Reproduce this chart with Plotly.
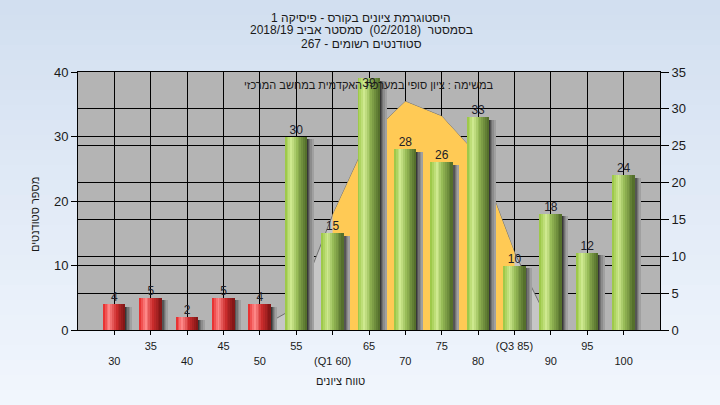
import plotly.graph_objects as go

# ---------------- data ----------------
categories = [30, 35, 40, 45, 50, 55, 60, 65, 70, 75, 80, 85, 90, 95, 100]
tick_labels = ["30", "35", "40", "45", "50", "55", "(Q1 60)", "65", "70", "75",
               "80", "(Q3 85)", "90", "95", "100"]
counts = [4, 5, 2, 5, 4, 30, 15, 39, 28, 26, 33, 10, 18, 12, 24]
curve_cats = [50, 55, 60, 65, 70, 75, 80, 85, 90]
curve_vals = [0.3, 3.1, 15.6, 26.3, 31.0, 29.0, 23.6, 10.5, 0.5]
q1, q3 = 60, 85
pass_mark = 55

title_lines = ["היסטוגרמת ציונים בקורס - פיסיקה 1",
               "בסמסטר  (02/2018)  סמסטר אביב 2018/19",
               "סטודנטים רשומים - 267"]
note_text = "במשימה : ציון סופי במערכת האקדמית במחשב המרכזי"
x_title = "טווח ציונים"
y_title = "מספר סטודנטים"

# ---------------- helpers ----------------
FONT = "Liberation Sans, Arial, sans-serif"
W, H = 720, 405
ML, MR, MT, MB = 78, 60, 72, 75
PW, PH = W - ML - MR, H - MT - MB


def px_x(px):
    return (px - ML) / PW


def px_y(py):
    return (H - MB - py) / PH


def lerp(c1, c2, t):
    return tuple(round(a + (b - a) * t) for a, b in zip(c1, c2))


def grad(stops, t):
    for (t0, c0), (t1, c1) in zip(stops, stops[1:]):
        if t <= t1:
            return lerp(c0, c1, (t - t0) / (t1 - t0))
    return stops[-1][1]


def rgb(c):
    return "rgb(%d,%d,%d)" % c


green_stops = [(0, (150, 196, 62)), (0.3, (208, 234, 145)), (0.55, (150, 186, 86)), (1, (78, 104, 40))]
red_stops = [(0, (228, 36, 36)), (0.28, (255, 138, 138)), (0.6, (206, 46, 46)), (1, (124, 20, 20))]

xs = list(range(len(categories)))
cat_idx = {c: i for i, c in enumerate(categories)}

fig = go.Figure()

# ---- area curve (main subplot, right axis) ----
cx = [cat_idx[c] for c in curve_cats]
fig.add_trace(go.Scatter(x=cx, y=curve_vals, mode="lines", fill="tozeroy",
                         fillcolor="#c6c6c6", line=dict(color="#707070", width=1),
                         yaxis="y", hoverinfo="skip", showlegend=False))
inner = [(cat_idx[c], v) for c, v in zip(curve_cats, curve_vals) if q1 <= c <= q3]
fig.add_trace(go.Scatter(x=[p[0] for p in inner], y=[p[1] for p in inner], mode="lines",
                         fill="tozeroy", fillcolor="#ffca55", line=dict(width=0, color="#ffca55"),
                         yaxis="y", hoverinfo="skip", showlegend=False))

# ---- bars (overlay subplot, left axis) ----
BW = 0.6
shadow_cols = [(55, 55, 55), (85, 85, 85), (115, 115, 115), (140, 140, 140), (160, 160, 160)]
SW = 0.035
for j, sc in enumerate(shadow_cols):
    fig.add_trace(go.Bar(x=xs, y=[max(v - 0.4, 0) for v in counts], width=SW,
                         offset=BW / 2 + j * SW, marker=dict(color=rgb(sc), line=dict(width=0)),
                         yaxis="y2", hoverinfo="skip", showlegend=False))

N = 12
for k in range(N):
    t = (k + 0.5) / N
    cols = [rgb(grad(red_stops if c < pass_mark else green_stops, t)) for c in categories]
    fig.add_trace(go.Bar(x=xs, y=counts, width=BW / N + 0.004, offset=-BW / 2 + k * BW / N,
                         marker=dict(color=cols, line=dict(width=0)),
                         yaxis="y2", hoverinfo="skip", showlegend=False))

ymax_left = 40
fig.add_trace(go.Scatter(x=xs, y=counts, mode="text", text=[str(v) for v in counts],
                         textposition=["bottom center" if v > ymax_left - 4 else "top center" for v in counts],
                         textfont=dict(family=FONT, size=12, color="#202028"),
                         yaxis="y2", cliponaxis=False, hoverinfo="skip", showlegend=False))

# ---------------- layout ----------------
ticktext = [lab if i % 2 == 1 else "<br>" + lab for i, lab in enumerate(tick_labels)]

shapes = []
NS = 27
for i in range(NS):
    t = i / (NS - 1)
    col = lerp((210, 223, 240), (241, 246, 253), t)
    top = i * H / NS
    bot = (i + 1) * H / NS + 1
    shapes.append(dict(type="rect", xref="paper", yref="paper", layer="below",
                       x0=px_x(-1), x1=px_x(W + 1), y0=px_y(bot), y1=px_y(top),
                       fillcolor=rgb(col), line=dict(width=0)))
shapes.append(dict(type="rect", xref="paper", yref="paper", layer="below",
                   x0=0, x1=1, y0=0, y1=1, fillcolor="#b4b4b4", line=dict(width=0)))

annotations = []
for ln, py in zip(title_lines, [17.5, 30.5, 43.5]):
    annotations.append(dict(text=ln, xref="paper", yref="paper", x=px_x(361), y=px_y(py),
                            showarrow=False, xanchor="center", yanchor="middle",
                            font=dict(family=FONT, size=12, color="#1a1a1a")))
annotations.append(dict(text=note_text, xref="paper", yref="paper", x=0.5, y=px_y(85),
                        showarrow=False, xanchor="center", yanchor="middle",
                        font=dict(family=FONT, size=11, color="#1a1a1a")))
annotations.append(dict(text=x_title, xref="paper", yref="paper", x=px_x(340), y=px_y(381),
                        showarrow=False, xanchor="center", yanchor="middle",
                        font=dict(family=FONT, size=11, color="#1a1a1a")))
annotations.append(dict(text=y_title, xref="paper", yref="paper", x=px_x(35), y=px_y(215),
                        showarrow=False, xanchor="center", yanchor="middle", textangle=-90,
                        font=dict(family=FONT, size=11, color="#1a1a1a")))

fig.update_layout(
    width=W, height=H,
    margin=dict(l=ML, r=MR, t=MT, b=MB, pad=0, autoexpand=False),
    paper_bgcolor="rgb(241,246,253)",
    plot_bgcolor="rgba(0,0,0,0)",
    barmode="overlay",
    bargap=0,
    showlegend=False,
    shapes=shapes,
    annotations=annotations,
    xaxis=dict(range=[-1, len(categories)], tickvals=xs, ticktext=ticktext,
               ticks="outside", ticklen=4, tickcolor="black", showline=True, linecolor="black",
               linewidth=1, mirror=True, showgrid=True, gridcolor="black", gridwidth=1,
               zeroline=False, tickfont=dict(family=FONT, size=11, color="#1a1a1a"),
               ticklabelstandoff=2, automargin=False, fixedrange=True),
    yaxis=dict(range=[0, 35], dtick=5, side="right", ticks="outside", ticklen=8, tickcolor="black",
               showline=True, linecolor="black", showgrid=True, gridcolor="black", gridwidth=1,
               zeroline=False, tickfont=dict(family=FONT, size=13, color="#1a1a1a"),
               automargin=False, fixedrange=True),
    yaxis2=dict(range=[0, ymax_left], dtick=10, side="left", overlaying="y", ticks="outside", ticklen=6,
                tickcolor="black", showline=True, linecolor="black", showgrid=True, gridcolor="black",
                gridwidth=1, zeroline=False, tickfont=dict(family=FONT, size=13, color="#1a1a1a"),
                automargin=False, fixedrange=True),
)

fig.write_html("out.html", config={"displayModeBar": False},
               post_script="document.body.style.margin='0';document.body.style.overflow='hidden';")
